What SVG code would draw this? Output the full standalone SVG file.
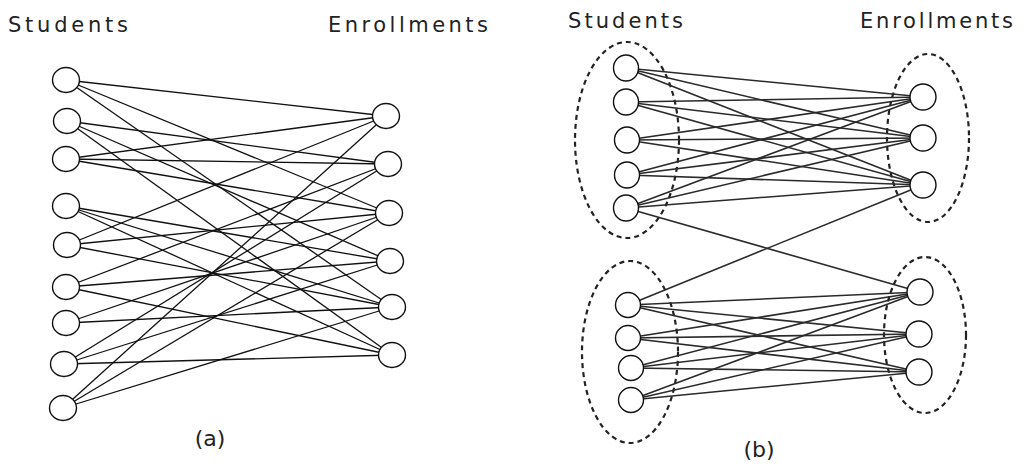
<svg xmlns="http://www.w3.org/2000/svg" width="1029" height="470" viewBox="0 0 1029 470">
<style>
.n{fill:#fff;stroke:#111;stroke-width:1.4}
.ea{stroke:#111;stroke-width:1.3;fill:none}
.eb{stroke:#2a2a2a;stroke-width:1.6;fill:none}
.grp{fill:none;stroke:#222;stroke-width:2.2;stroke-dasharray:5 4}
.t{font-family:"DejaVu Sans","Liberation Sans",sans-serif;font-size:21px;fill:#222}
.c{font-family:"DejaVu Sans","Liberation Sans",sans-serif;font-size:22px;fill:#222}
</style>
<rect width="1029" height="470" fill="#fff"/>
<text class="t" x="8" y="32" textLength="120" lengthAdjust="spacing">Students</text>
<text class="t" x="328" y="32" textLength="160" lengthAdjust="spacing">Enrollments</text>
<text class="t" x="568" y="28" textLength="115" lengthAdjust="spacing">Students</text>
<text class="t" x="860" y="28" textLength="153" lengthAdjust="spacing">Enrollments</text>
<text class="c" x="210" y="446" text-anchor="middle">(a)</text>
<text class="c" x="759" y="457" text-anchor="middle">(b)</text>
<g id="groups">
<ellipse class="grp" cx="627" cy="140" rx="52" ry="98"/>
<ellipse class="grp" cx="928" cy="138" rx="41" ry="84"/>
<ellipse class="grp" cx="630" cy="352" rx="48" ry="91"/>
<ellipse class="grp" cx="925" cy="335" rx="41" ry="78"/>
</g>
<g id="connectors">
<g class="ea">
<line x1="66" y1="80" x2="386" y2="116"/><line x1="66" y1="80" x2="389" y2="213"/><line x1="66" y1="80" x2="392" y2="307"/>
<line x1="67" y1="121" x2="388" y2="164"/><line x1="67" y1="121" x2="390" y2="261"/><line x1="67" y1="121" x2="392" y2="355"/>
<line x1="66" y1="159" x2="386" y2="116"/><line x1="66" y1="159" x2="388" y2="164"/><line x1="66" y1="159" x2="389" y2="213"/>
<line x1="66" y1="206" x2="390" y2="261"/><line x1="66" y1="206" x2="392" y2="307"/><line x1="66" y1="206" x2="392" y2="355"/>
<line x1="67" y1="245" x2="386" y2="116"/><line x1="67" y1="245" x2="389" y2="213"/><line x1="67" y1="245" x2="392" y2="307"/>
<line x1="66" y1="287" x2="388" y2="164"/><line x1="66" y1="287" x2="390" y2="261"/><line x1="66" y1="287" x2="392" y2="355"/>
<line x1="66" y1="323" x2="389" y2="213"/><line x1="66" y1="323" x2="392" y2="307"/>
<line x1="64" y1="364" x2="388" y2="164"/><line x1="64" y1="364" x2="390" y2="261"/><line x1="64" y1="364" x2="392" y2="355"/>
<line x1="63" y1="408" x2="386" y2="116"/><line x1="63" y1="408" x2="389" y2="213"/><line x1="63" y1="408" x2="392" y2="307"/>
</g>
<g class="eb">
<line x1="626" y1="68" x2="923" y2="97"/><line x1="626" y1="68" x2="923" y2="138"/><line x1="626" y1="68" x2="923" y2="185"/>
<line x1="626" y1="102" x2="923" y2="97"/><line x1="626" y1="102" x2="923" y2="138"/><line x1="626" y1="102" x2="923" y2="185"/>
<line x1="627" y1="140" x2="923" y2="97"/><line x1="627" y1="140" x2="923" y2="138"/><line x1="627" y1="140" x2="923" y2="185"/>
<line x1="627" y1="175" x2="923" y2="97"/><line x1="627" y1="175" x2="923" y2="138"/><line x1="627" y1="175" x2="923" y2="185"/>
<line x1="626" y1="208" x2="923" y2="97"/><line x1="626" y1="208" x2="923" y2="138"/><line x1="626" y1="208" x2="923" y2="185"/>
<line x1="626" y1="208" x2="920" y2="292"/><line x1="628" y1="305" x2="923" y2="185"/>
<line x1="628" y1="305" x2="920" y2="292"/><line x1="628" y1="305" x2="919" y2="334"/><line x1="628" y1="305" x2="919" y2="372"/>
<line x1="628" y1="338" x2="920" y2="292"/><line x1="628" y1="338" x2="919" y2="334"/><line x1="628" y1="338" x2="919" y2="372"/>
<line x1="631" y1="368" x2="920" y2="292"/><line x1="631" y1="368" x2="919" y2="334"/><line x1="631" y1="368" x2="919" y2="372"/>
<line x1="631" y1="400" x2="920" y2="292"/><line x1="631" y1="400" x2="919" y2="334"/><line x1="631" y1="400" x2="919" y2="372"/>
</g>
</g>
<g id="a-s1"><ellipse class="n" cx="66" cy="80" rx="13.5" ry="12.5"/></g>
<g id="a-s2"><ellipse class="n" cx="67" cy="121" rx="13.5" ry="12.5"/></g>
<g id="a-s3"><ellipse class="n" cx="66" cy="159" rx="13.5" ry="12.5"/></g>
<g id="a-s4"><ellipse class="n" cx="66" cy="206" rx="13.5" ry="12.5"/></g>
<g id="a-s5"><ellipse class="n" cx="67" cy="245" rx="13.5" ry="12.5"/></g>
<g id="a-s6"><ellipse class="n" cx="66" cy="287" rx="13.5" ry="12.5"/></g>
<g id="a-s7"><ellipse class="n" cx="66" cy="323" rx="13.5" ry="12.5"/></g>
<g id="a-s8"><ellipse class="n" cx="64" cy="364" rx="13.5" ry="12.5"/></g>
<g id="a-s9"><ellipse class="n" cx="63" cy="408" rx="13.5" ry="12.5"/></g>
<g id="a-e1"><ellipse class="n" cx="386" cy="116" rx="13.5" ry="12.5"/></g>
<g id="a-e2"><ellipse class="n" cx="388" cy="164" rx="13.5" ry="12.5"/></g>
<g id="a-e3"><ellipse class="n" cx="389" cy="213" rx="13.5" ry="12.5"/></g>
<g id="a-e4"><ellipse class="n" cx="390" cy="261" rx="13.5" ry="12.5"/></g>
<g id="a-e5"><ellipse class="n" cx="392" cy="307" rx="13.5" ry="12.5"/></g>
<g id="a-e6"><ellipse class="n" cx="392" cy="355" rx="13.5" ry="12.5"/></g>
<g id="b-s1"><ellipse class="n" cx="626" cy="68" rx="12.5" ry="13"/></g>
<g id="b-s2"><ellipse class="n" cx="626" cy="102" rx="12.5" ry="13"/></g>
<g id="b-s3"><ellipse class="n" cx="627" cy="140" rx="12.5" ry="13"/></g>
<g id="b-s4"><ellipse class="n" cx="627" cy="175" rx="12.5" ry="13"/></g>
<g id="b-s5"><ellipse class="n" cx="626" cy="208" rx="12.5" ry="13"/></g>
<g id="b-e1"><ellipse class="n" cx="923" cy="97" rx="13" ry="13"/></g>
<g id="b-e2"><ellipse class="n" cx="923" cy="138" rx="13" ry="13"/></g>
<g id="b-e3"><ellipse class="n" cx="923" cy="185" rx="13" ry="13"/></g>
<g id="b-s6"><ellipse class="n" cx="628" cy="305" rx="12.5" ry="12.5"/></g>
<g id="b-s7"><ellipse class="n" cx="628" cy="338" rx="12.5" ry="12.5"/></g>
<g id="b-s8"><ellipse class="n" cx="631" cy="368" rx="12.5" ry="12.5"/></g>
<g id="b-s9"><ellipse class="n" cx="631" cy="400" rx="12.5" ry="12.5"/></g>
<g id="b-e4"><ellipse class="n" cx="920" cy="292" rx="13" ry="13"/></g>
<g id="b-e5"><ellipse class="n" cx="919" cy="334" rx="13" ry="13"/></g>
<g id="b-e6"><ellipse class="n" cx="919" cy="372" rx="13" ry="13"/></g>
</svg>
